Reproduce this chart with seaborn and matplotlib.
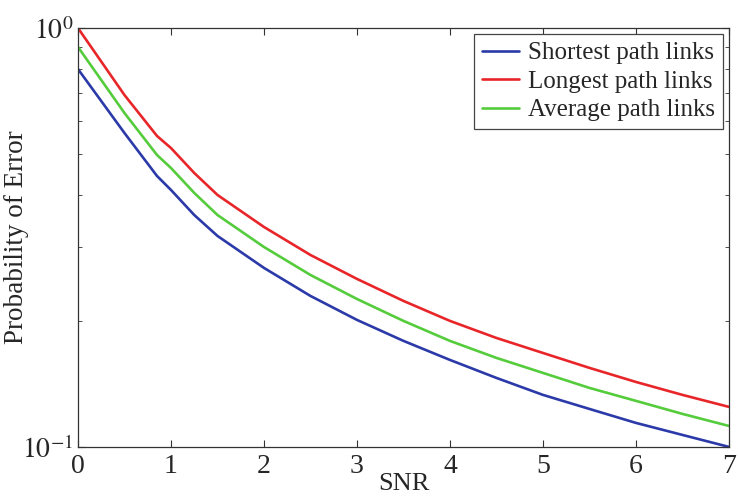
import numpy as np
import pandas as pd
import matplotlib
matplotlib.use("Agg")
import matplotlib.pyplot as plt
import seaborn as sns
from matplotlib.ticker import LogLocator, FixedLocator, NullFormatter

snr = [0, 0.5, 0.85, 1, 1.25, 1.5, 2, 2.5, 3, 3.5, 4, 4.5, 5, 5.5, 6, 6.5, 7]
shortest = [0.798, 0.5615, 0.4433, 0.4106, 0.3578, 0.3189, 0.2675, 0.2293, 0.2010,
            0.1791, 0.1613, 0.1461, 0.1331, 0.1232, 0.1141, 0.1068, 0.1000]
longest = [1.000, 0.6918, 0.5524, 0.5170, 0.4508, 0.3995, 0.3350, 0.2872, 0.2518,
           0.2231, 0.1999, 0.1820, 0.1676, 0.1544, 0.1429, 0.1331, 0.1246]
average = [0.901, 0.6267, 0.4975, 0.4633, 0.4040, 0.3578, 0.3001, 0.2573, 0.2255,
           0.1999, 0.1791, 0.1631, 0.1502, 0.1383, 0.1288, 0.1199, 0.1122]
series_names = ["Shortest path links", "Longest path links", "Average path links"]
colors = ["#2b3aa8", "#e8262a", "#55cc3c"]

df = pd.concat([
    pd.DataFrame({"SNR": snr, "Pe": vals, "series": name})
    for name, vals in zip(series_names, [shortest, longest, average])
])

sns.set_style("ticks")
plt.rcParams["font.family"] = ["Liberation Serif", "DejaVu Serif"]
plt.rcParams["mathtext.fontset"] = "stix"

fig = plt.figure(figsize=(7.38, 5.01), dpi=100)
ax = fig.add_axes([0.1057, 0.108, 0.882, 0.836])

sns.lineplot(data=df, x="SNR", y="Pe", hue="series", hue_order=series_names,
             palette=colors, linewidth=1.9, ax=ax, estimator=None, sort=False)

ax.set_yscale("log")
ax.set_xlim(0, 7)
ax.set_ylim(0.1, 1.0)
ax.set_xticks(range(0, 8))
ax.yaxis.set_major_locator(FixedLocator([0.1, 1.0]))
ax.set_yticklabels([r"$10^{-1}$", r"$10^{0}$"])
ax.yaxis.set_minor_locator(LogLocator(base=10, subs=np.arange(2, 10)))
ax.yaxis.set_minor_formatter(NullFormatter())
ax.tick_params(axis="both", which="both", direction="in", top=True, right=True,
               labelsize=20, color="#333333")
ax.tick_params(which="major", length=5, width=0.8)
ax.tick_params(axis="x", which="major", pad=5)
ax.tick_params(which="minor", length=3, width=0.6)
for s in ax.spines.values():
    s.set_color("#333333")
    s.set_linewidth(0.9)

ax.set_xlabel("SNR", fontsize=19, labelpad=-4)
ax.set_ylabel("Probability of Error", fontsize=19.5)
ax.yaxis.set_label_coords(-0.076, 0.5)

leg = ax.legend(loc="upper right", fontsize=18, frameon=True, fancybox=False,
                framealpha=1, edgecolor="#444444", borderpad=0.3,
                handlelength=1.5, handletextpad=0.35, labelspacing=0.24,
                borderaxespad=0.25)
leg.get_frame().set_linewidth(0.9)

fig.savefig("out.png", dpi=100)
